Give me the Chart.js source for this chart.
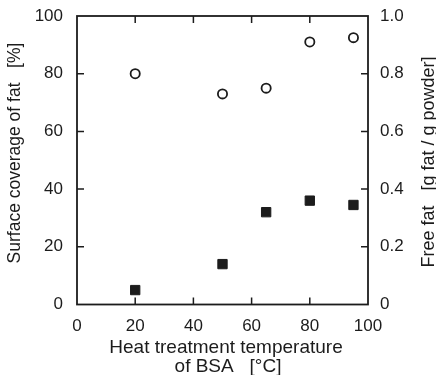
<!DOCTYPE html>
<html>
<head>
<meta charset="utf-8">
<title>Surface coverage and free fat vs heat treatment temperature</title>
<script src="https://cdn.jsdelivr.net/npm/chart.js@4/dist/chart.umd.min.js"></script>
<style>
  html, body { margin: 0; padding: 0; background: #fff; }
  #chart { display: block; }
</style>
</head>
<body>
<canvas id="chart" width="436" height="375"></canvas>
<script>
// Heat treatment temperature of BSA [°C]
const temperatures = [20, 50, 65, 80, 95];
// Surface coverage of fat [%] (open circles, left axis)
const surfaceCoverage = [80, 73, 75, 91, 92.5];
// Free fat [g fat / g powder] (filled squares, right axis)
const freeFat = [0.05, 0.14, 0.32, 0.36, 0.345];

const xTitle = ['Heat treatment temperature', 'of BSA   [°C]'];
const leftTitle = 'Surface coverage of fat   [%]';
const rightTitle = 'Free fat   [g fat / g powder]';

const INK = '#1c1c1c';
const FONT = '"Liberation Sans", Arial, Helvetica, sans-serif';

/**
 * Frame, inward tick marks and axis titles
 */
const framePlugin = {
  id: 'frame',
  afterDraw(chart) {
    const { ctx, chartArea: a, scales } = chart;
    const len = 7;
    ctx.save();
    ctx.strokeStyle = INK;
    ctx.lineWidth = 1.8;
    ctx.strokeRect(a.left, a.top, a.right - a.left, a.bottom - a.top);

    ctx.lineWidth = 1.5;
    ctx.beginPath();
    scales.x.ticks.forEach(t => {
      const px = scales.x.getPixelForValue(t.value);
      if (px <= a.left + 1 || px >= a.right - 1) return;
      ctx.moveTo(px, a.bottom); ctx.lineTo(px, a.bottom - len);
      ctx.moveTo(px, a.top); ctx.lineTo(px, a.top + len);
    });
    scales.y.ticks.forEach(t => {
      const py = scales.y.getPixelForValue(t.value);
      if (py <= a.top + 1 || py >= a.bottom - 1) return;
      ctx.moveTo(a.left, py); ctx.lineTo(a.left + len, py);
    });
    scales.y1.ticks.forEach(t => {
      const py = scales.y1.getPixelForValue(t.value);
      if (py <= a.top + 1 || py >= a.bottom - 1) return;
      ctx.moveTo(a.right, py); ctx.lineTo(a.right - len, py);
    });
    ctx.stroke();

    // axis titles
    ctx.fillStyle = INK;
    ctx.textAlign = 'center';
    ctx.textBaseline = 'middle';
    ctx.font = '19px ' + FONT;
    ctx.fillText(xTitle[0], 226, 348);
    ctx.fillText(xTitle[1], 228, 367);

    ctx.font = '17.5px ' + FONT;
    ctx.save();
    ctx.translate(15.5, 153);
    ctx.rotate(-Math.PI / 2);
    ctx.fillText(leftTitle, 0, 0);
    ctx.restore();

    ctx.font = '18px ' + FONT;
    ctx.save();
    ctx.translate(429, 162);
    ctx.rotate(-Math.PI / 2);
    ctx.fillText(rightTitle, 0, 0);
    ctx.restore();

    ctx.restore();
  }
};

/**
 * Pin a scale's size and drop the label overhang padding
 */
function pinScale(size) {
  return function(scale) {
    if (scale.isHorizontal()) {
      scale.height = size;
    } else {
      scale.width = size;
    }
    scale.paddingTop = 0;
    scale.paddingBottom = 0;
    scale.paddingLeft = 0;
    scale.paddingRight = 0;
  };
}

document.addEventListener('DOMContentLoaded', function() {
  renderChart();
});

function renderChart() {
  const ctx = document.getElementById('chart').getContext('2d');
  const tickFont = { family: FONT, size: 17 };
  const noGrid = { display: false, drawTicks: false };

  new Chart(ctx, {
    type: 'scatter',
    data: {
      datasets: [{
        label: 'Surface coverage of fat',
        data: temperatures.map((t, i) => ({ x: t, y: surfaceCoverage[i] })),
        yAxisID: 'y',
        pointStyle: 'circle',
        pointRadius: 4.6,
        pointBorderWidth: 1.8,
        pointBackgroundColor: '#fff',
        pointBorderColor: INK
      }, {
        label: 'Free fat',
        data: temperatures.map((t, i) => ({ x: t, y: freeFat[i] })),
        yAxisID: 'y1',
        pointStyle: 'rect',
        pointRadius: 6.6,
        pointBorderWidth: 1,
        pointBackgroundColor: INK,
        pointBorderColor: INK
      }]
    },
    options: {
      responsive: false,
      animation: false,
      events: [],
      layout: { padding: { top: 16, left: 0, right: 0, bottom: 0 } },
      plugins: {
        legend: { display: false },
        tooltip: { enabled: false }
      },
      scales: {
        x: {
          type: 'linear',
          min: 0,
          max: 100,
          grid: noGrid,
          border: { display: false },
          ticks: { stepSize: 20, color: INK, font: tickFont, padding: 12, maxRotation: 0 },
          afterFit: pinScale(70.5)
        },
        y: {
          position: 'left',
          min: 0,
          max: 100,
          grid: noGrid,
          border: { display: false },
          ticks: { stepSize: 20, color: INK, font: tickFont, padding: 14 },
          afterFit: pinScale(77)
        },
        y1: {
          position: 'right',
          min: 0,
          max: 1,
          grid: noGrid,
          border: { display: false },
          ticks: {
            stepSize: 0.2,
            color: INK,
            font: tickFont,
            padding: 12,
            callback: v => (v === 0 ? '0' : v.toFixed(1))
          },
          afterFit: pinScale(68)
        }
      }
    },
    plugins: [framePlugin]
  });
}
</script>
</body>
</html>
